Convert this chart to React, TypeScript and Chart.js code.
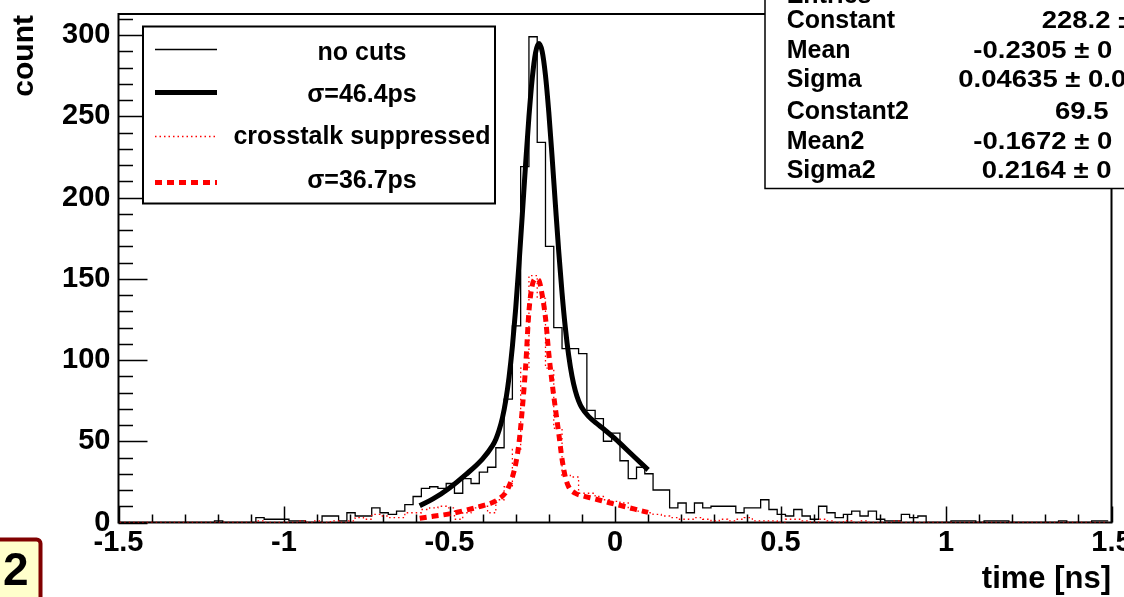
import React, { useEffect, useRef } from "react";
import { Chart, registerables } from "chart.js";

Chart.register(...registerables);

// ---- histogram binning (120 bins of 0.025 ns) ----
const BIN_LOW = -1.51;
const BIN_WIDTH = 0.025;

// "no cuts" histogram counts (bin 0 .. 119)
const noCutsCounts = [
  0, 0, 0, 0, 0, 0, 0, 0, 0, 0,
  0, 0, 1, 0, 0, 0, 0, 3, 2, 2,
  2, 1, 1, 0, 0, 4, 4, 1, 6, 4,
  4, 9, 6, 5, 7, 11, 16, 21, 22, 21,
  24, 18, 27, 24, 31, 34, 46, 76, 121, 219,
  299, 234, 170, 120, 107, 107, 104, 69, 64, 50,
  55, 38, 27, 34, 30, 20, 20, 9, 12, 6,
  12, 9, 10, 10, 10, 6, 9, 9, 14, 8,
  5, 4, 8, 4, 2, 10, 6, 3, 5, 7,
  4, 7, 2, 1, 1, 5, 3, 4, 0, 0,
  0, 1, 1, 1, 0, 1, 1, 1, 0, 0,
  0, 0, 0, 0, 1, 0, 0, 0, 1, 1,
];

// "crosstalk suppressed" histogram counts (bin 0 .. 119)
const suppressedCounts = [
  0, 0, 0, 0, 0, 0, 0, 0, 0, 0,
  0, 0, 0, 0, 0, 0, 0, 1, 0, 0,
  0, 0, 1, 0, 1, 0, 1, 0, 1, 3,
  2, 5, 4, 3, 3, 6, 6, 8, 9, 10,
  9, 2, 6, 9, 10, 6, 14, 22, 45, 95,
  152, 138, 95, 58, 29, 28, 18, 18, 16, 14,
  13, 12, 8, 7, 6, 5, 4, 3, 2, 2,
  3, 2, 1, 2, 1, 2, 3, 1, 1, 1,
  0, 2, 2, 1, 0, 2, 1, 0, 1, 0,
  1, 0, 0, 0, 1, 0, 0, 0, 0, 0,
  0, 0, 0, 0, 0, 0, 0, 0, 0, 0,
  0, 0, 0, 0, 0, 0, 0, 0, 0, 0,
];

// fitted curve, no cuts (sigma = 46.4 ps)
const fitNoCutsX = [
  -0.59, -0.55, -0.5, -0.45, -0.4, -0.37, -0.36, -0.35, -0.34, -0.33, -0.32, -0.31,
  -0.3, -0.29, -0.28, -0.27, -0.26, -0.25, -0.24, -0.23, -0.22, -0.21, -0.2,
  -0.19, -0.18, -0.17, -0.16, -0.15, -0.14, -0.13, -0.12, -0.11, -0.1, -0.08,
  -0.05, -0.03, 0.0, 0.05, 0.1,
];
const fitNoCutsY = [
  10.3, 14.5, 21.3, 29.6, 39.2, 47.3, 51.3, 56.9, 64.5, 75.2, 89.6, 108.3,
  131.7, 159.3, 189.7, 220.8, 249.8, 273.5, 289.2, 294.8, 289.9, 275.1, 252.5,
  224.9, 195.5, 166.8, 141.3, 119.8, 102.9, 90.2, 81.2, 74.9, 70.6, 65.3,
  60.1, 56.8, 51.6, 42.0, 32.4,
];

// fitted curve, crosstalk suppressed (sigma = 36.7 ps)
const fitSuppressedX = [
  -0.59, -0.55, -0.5, -0.45, -0.4, -0.37, -0.35, -0.33, -0.32, -0.31, -0.3,
  -0.29, -0.28, -0.27, -0.26, -0.25, -0.24, -0.23, -0.22, -0.21, -0.2, -0.19,
  -0.18, -0.17, -0.16, -0.15, -0.14, -0.12, -0.1, -0.06, -0.02, 0.02, 0.06, 0.1,
];
const fitSuppressedY = [
  2.6, 3.8, 5.3, 7.6, 10.3, 12.3, 14.6, 18.5, 22.5, 28, 36,
  49, 70, 96, 130, 146, 150, 149, 140, 126, 104, 86,
  70, 55, 39, 28, 22, 18, 16.5, 14.5, 12.3, 10.3, 8.2, 6.2,
];

const legendLabels = ["no cuts", "\u03c3=46.4ps", "crosstalk suppressed", "\u03c3=36.7ps"];
const statsNames = ["Entries", "Constant", "Mean", "Sigma", "Constant2", "Mean2", "Sigma2"];
const statsValues = ["", "228.2 \u00b1", "-0.2305 \u00b1 0", "0.04635 \u00b1 0.0", "69.5", "-0.1672 \u00b1 0", "0.2164 \u00b1 0"];
const padLabel = "2";

const X_MIN = -1.5;
const X_MAX = 1.5;
const Y_MIN = 0;
const Y_MAX = 313;

const FONT = '"Liberation Sans", Arial, Helvetica, sans-serif';
const RED = "#ff0000";

function histPoints(counts: number[]) {
  const pts = counts.map((c, i) => ({ x: BIN_LOW + i * BIN_WIDTH, y: c }));
  pts.push({ x: BIN_LOW + counts.length * BIN_WIDTH, y: counts[counts.length - 1] });
  return pts;
}

function curvePoints(xs: number[], ys: number[]) {
  return xs.map((x, i) => ({ x, y: ys[i] }));
}

const rootDecor = {
  id: "rootDecor",
  beforeDatasetsDraw(chart: any) {
    const { ctx, chartArea: a, scales } = chart;
    const xs = scales.x;
    const ys = scales.y;
    ctx.save();
    ctx.strokeStyle = "#000";
    ctx.lineWidth = 1.5;
    ctx.beginPath();
    for (let k = 0; k * 10 <= Y_MAX; k++) {
      const v = k * 10;
      const major = v % 50 === 0;
      const py = Math.round(ys.getPixelForValue(v)) + 0.5;
      ctx.moveTo(a.left, py);
      ctx.lineTo(a.left + (major ? 29 : 14.5), py);
    }
    for (let k = -15; k <= 15; k++) {
      const major = k % 5 === 0;
      const px = Math.round(xs.getPixelForValue(k / 10)) + 0.5;
      ctx.moveTo(px, a.bottom);
      ctx.lineTo(px, a.bottom - (major ? 16 : 8));
    }
    ctx.stroke();
    ctx.lineWidth = 2;
    ctx.strokeRect(a.left, a.top, a.right - a.left, a.bottom - a.top);
    ctx.restore();
  },
  afterDraw(chart: any) {
    const { ctx } = chart;
    ctx.save();

    // ---- legend ----
    const lx = 143, ly = 26.5, lw = 352, lh = 177;
    ctx.fillStyle = "#fff";
    ctx.fillRect(lx, ly, lw, lh);
    ctx.strokeStyle = "#000";
    ctx.lineWidth = 2;
    ctx.strokeRect(lx, ly, lw, lh);
    const lineY = [49.5, 92.5, 136.5, 182.5];
    const textY = [60, 101.5, 144, 188];
    const styles = [
      { c: "#000", w: 1.3, d: [] as number[] },
      { c: "#000", w: 5, d: [] as number[] },
      { c: RED, w: 1.3, d: [1.5, 3] },
      { c: RED, w: 5, d: [7, 5] },
    ];
    styles.forEach((s, i) => {
      ctx.beginPath();
      ctx.strokeStyle = s.c;
      ctx.lineWidth = s.w;
      ctx.setLineDash(s.d);
      ctx.moveTo(155, lineY[i]);
      ctx.lineTo(217, lineY[i]);
      ctx.stroke();
    });
    ctx.setLineDash([]);
    ctx.fillStyle = "#000";
    ctx.font = `bold 25px ${FONT}`;
    ctx.textAlign = "center";
    ctx.textBaseline = "alphabetic";
    legendLabels.forEach((t, i) => ctx.fillText(t, 362, textY[i]));

    // ---- stats box ----
    ctx.fillStyle = "#fff";
    ctx.fillRect(765, -10, 400, 198.5);
    ctx.strokeStyle = "#000";
    ctx.lineWidth = 1.5;
    ctx.strokeRect(765, -10, 400, 198.5);
    ctx.fillStyle = "#000";
    ctx.textAlign = "left";
    const sBase = [2.5, 28.3, 58.3, 87.3, 119.3, 149.3, 178.3];
    const vX = [0, 1041.7, 973.3, 958.3, 1055, 973.3, 981.7];
    statsNames.forEach((n, i) => {
      ctx.font = `bold 25px ${FONT}`;
      ctx.fillText(n, 786.7, sBase[i]);
      if (statsValues[i]) {
        ctx.save();
        ctx.translate(vX[i], sBase[i]);
        ctx.scale(1.17, 1);
        ctx.font = `bold 23.5px ${FONT}`;
        ctx.fillText(statsValues[i], 0, 0);
        ctx.restore();
      }
    });

    // ---- axis titles ----
    ctx.font = `bold 31px ${FONT}`;
    ctx.textAlign = "right";
    ctx.fillText("time [ns]", 1111, 588);
    ctx.save();
    ctx.translate(33, 15);
    ctx.rotate(-Math.PI / 2);
    ctx.font = `bold 30px ${FONT}`;
    ctx.textAlign = "right";
    ctx.fillText("count", 0, 0);
    ctx.restore();

    // ---- pad label box ----
    ctx.beginPath();
    ctx.moveTo(-5, 539.5);
    ctx.lineTo(36.5, 539.5);
    ctx.arcTo(40.5, 539.5, 40.5, 543.5, 4);
    ctx.lineTo(40.5, 610);
    ctx.lineTo(-5, 610);
    ctx.closePath();
    ctx.fillStyle = "#ffffcc";
    ctx.fill();
    ctx.strokeStyle = "#800000";
    ctx.lineWidth = 4;
    ctx.stroke();
    ctx.fillStyle = "#000";
    ctx.font = `bold 46px ${FONT}`;
    ctx.textAlign = "left";
    ctx.fillText(padLabel, 3, 585);

    ctx.restore();
  },
};

export default function App() {
  const ref = useRef<HTMLCanvasElement | null>(null);

  useEffect(() => {
    document.body.style.margin = "0";
    const canvas = ref.current;
    if (!canvas) return;
    const tickFont = { family: FONT, weight: "bold" as const, size: 29 };
    const chart = new Chart(canvas, {
      type: "line",
      data: {
        datasets: [
          {
            label: legendLabels[1],
            data: curvePoints(fitNoCutsX, fitNoCutsY),
            borderColor: "#000",
            borderWidth: 5,
            pointRadius: 0,
            cubicInterpolationMode: "monotone",
            fill: false,
            order: 0,
          },
          {
            label: legendLabels[3],
            data: curvePoints(fitSuppressedX, fitSuppressedY),
            borderColor: RED,
            borderWidth: 5,
            borderDash: [7, 5],
            pointRadius: 0,
            cubicInterpolationMode: "monotone",
            fill: false,
            order: 1,
          },
          {
            label: legendLabels[2],
            data: histPoints(suppressedCounts),
            borderColor: RED,
            borderWidth: 1.3,
            borderDash: [1.5, 3],
            pointRadius: 0,
            stepped: "before",
            fill: false,
            order: 2,
          },
          {
            label: legendLabels[0],
            data: histPoints(noCutsCounts),
            borderColor: "#000",
            borderWidth: 1.3,
            pointRadius: 0,
            stepped: "before",
            fill: false,
            order: 3,
          },
        ],
      },
      options: {
        animation: false,
        responsive: false,
        devicePixelRatio: 1,
        events: [],
        layout: { padding: { top: 14, right: 12.5, left: 0, bottom: 0 } },
        plugins: { legend: { display: false }, tooltip: { enabled: false }, title: { display: false } },
        scales: {
          x: {
            type: "linear",
            min: X_MIN,
            max: X_MAX,
            grid: { display: false },
            border: { display: false },
            ticks: {
              stepSize: 0.5,
              includeBounds: false,
              autoSkip: false,
              maxRotation: 0,
              padding: -5,
              color: "#000",
              font: tickFont,
              callback: (v: any) => String(Math.round(Number(v) * 10) / 10),
            },
            afterFit: (s: any) => {
              s.height = 74.5;
              s.paddingLeft = 0;
              s.paddingRight = 0;
            },
          },
          y: {
            type: "linear",
            min: Y_MIN,
            max: Y_MAX,
            grid: { display: false },
            border: { display: false },
            ticks: {
              stepSize: 50,
              includeBounds: false,
              padding: 0,
              color: "#000",
              font: tickFont,
              callback: (v: any) => String(Math.round(Number(v))),
            },
            afterFit: (s: any) => {
              s.width = 118.5;
              s.paddingTop = 0;
              s.paddingBottom = 0;
            },
          },
        },
      },
      plugins: [rootDecor],
    } as any);
    return () => chart.destroy();
  }, []);

  return (
    <canvas
      ref={ref}
      width={1124}
      height={597}
      style={{ position: "fixed", left: 0, top: 0, width: 1124, height: 597 }}
    />
  );
}
